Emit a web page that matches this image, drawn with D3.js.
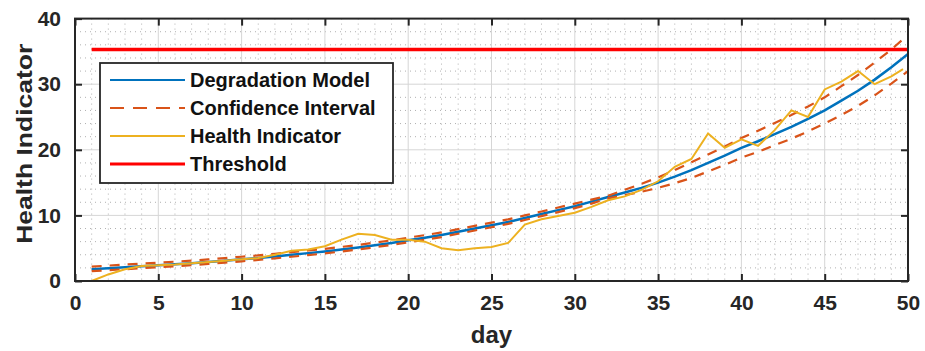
<html>
<head>
<style>
  body { margin: 0; background: #fff; }
  text { font-family: "Liberation Sans", Arial, sans-serif; }
</style>
<script src="https://d3js.org/d3.v7.min.js"></script>
</head>
<body>
<svg id="chart" width="925" height="351"></svg>
<script>
// days of the degradation model
const days = d3.range(1, 51);
const modelValues = [1.8, 1.95, 2.1, 2.25, 2.4, 2.55, 2.7, 2.9, 3.1, 3.3,
  3.5, 3.75, 4.0, 4.25, 4.5, 4.8, 5.1, 5.45, 5.8, 6.2,
  6.6, 7.0, 7.5, 8.0, 8.5, 9.0, 9.6, 10.2, 10.8, 11.4,
  12.1, 12.8, 13.5, 14.2, 15.0, 15.9, 16.9, 18.0, 19.1, 20.3,
  21.3, 22.4, 23.5, 24.7, 26.0, 27.5, 29.0, 30.7, 32.6, 34.6];
const upperValues = [2.2, 2.35, 2.5, 2.65, 2.8, 2.95, 3.1, 3.3, 3.5, 3.7,
  3.9, 4.15, 4.4, 4.65, 4.9, 5.2, 5.5, 5.85, 6.2, 6.6,
  7.0, 7.4, 7.9, 8.4, 8.9, 9.4, 10.0, 10.6, 11.2, 11.8,
  12.4, 13.0, 13.9, 14.8, 15.8, 16.9, 18.1, 19.3, 20.5, 21.8,
  22.9, 24.1, 25.3, 26.6, 28.0, 29.7, 31.4, 33.3, 35.3, 37.5];
const lowerValues = [1.5, 1.65, 1.8, 1.95, 2.1, 2.25, 2.4, 2.6, 2.8, 3.0,
  3.2, 3.45, 3.7, 3.95, 4.2, 4.5, 4.8, 5.15, 5.5, 5.9,
  6.3, 6.7, 7.2, 7.7, 8.2, 8.7, 9.3, 9.9, 10.5, 11.1,
  11.8, 12.6, 13.1, 13.6, 14.2, 14.9, 15.7, 16.7, 17.7, 18.8,
  19.7, 20.7, 21.7, 22.8, 24.0, 25.3, 26.7, 28.3, 30.1, 32.0];

// measured health indicator
const hiDays = [1, 2, 3, 4, 5, 6, 7, 8, 9, 10,
  11, 12, 13, 14, 15, 16, 17, 18, 19, 20,
  21, 22, 23, 24, 25, 26, 27, 28, 29, 30,
  31, 32, 33, 34, 35, 36, 37, 38, 39, 40,
  41, 42, 43, 44, 45, 46, 47, 48, 49, 49.7];
const hiValues = [0.0, 1.0, 1.8, 2.3, 2.4, 2.5, 2.7, 2.9, 3.1, 3.3,
  3.5, 4.0, 4.6, 4.8, 5.3, 6.3, 7.2, 7.0, 6.3, 6.3,
  6.0, 5.0, 4.7, 5.0, 5.2, 5.8, 8.6, 9.4, 9.9, 10.4,
  11.3, 12.3, 12.9, 13.9, 15.2, 17.4, 18.6, 22.5, 20.3, 21.6,
  20.6, 23.0, 26.0, 25.0, 29.2, 30.4, 32.0, 30.0, 31.2, 32.3];

const threshold = 35.3;
const xTicks = [0, 5, 10, 15, 20, 25, 30, 35, 40, 45, 50];
const yTicks = [0, 10, 20, 30, 40];
const legendLabels = ["Degradation Model", "Confidence Interval", "Health Indicator", "Threshold"];

const svg = d3.select("#chart");
const plotLeft = 75, plotRight = 908, plotTop = 18.6, plotBottom = 281;

const x = d3.scaleLinear().domain([0, 50]).range([plotLeft, plotRight]);
const y = d3.scaleLinear().domain([0, 40]).range([plotBottom, plotTop]);

// minor grid (dotted)
const grid = svg.append("g");
grid.selectAll(".vminor").data(d3.range(1, 50).filter(d => d % 5 !== 0)).enter()
  .append("line")
  .attr("x1", d => x(d)).attr("x2", d => x(d))
  .attr("y1", plotTop).attr("y2", plotBottom)
  .attr("stroke", "#b0b0b0").attr("stroke-width", 1).attr("stroke-dasharray", "1,4");
grid.selectAll(".hminor").data(d3.range(2, 40, 2).filter(d => d % 10 !== 0)).enter()
  .append("line")
  .attr("x1", plotLeft).attr("x2", plotRight)
  .attr("y1", d => y(d)).attr("y2", d => y(d))
  .attr("stroke", "#b0b0b0").attr("stroke-width", 1).attr("stroke-dasharray", "1,4");
// major grid
grid.selectAll(".vmajor").data(xTicks.slice(1, -1)).enter()
  .append("line")
  .attr("x1", d => x(d)).attr("x2", d => x(d))
  .attr("y1", plotTop).attr("y2", plotBottom)
  .attr("stroke", "#d6d6d6").attr("stroke-width", 1);
grid.selectAll(".hmajor").data(yTicks.slice(1, -1)).enter()
  .append("line")
  .attr("x1", plotLeft).attr("x2", plotRight)
  .attr("y1", d => y(d)).attr("y2", d => y(d))
  .attr("stroke", "#d6d6d6").attr("stroke-width", 1);

// series
const line = d3.line().x(d => x(d[0])).y(d => y(d[1]));

svg.append("path")
  .attr("d", line(days.map((d, i) => [d, modelValues[i]])))
  .attr("fill", "none").attr("stroke", "#0072BD").attr("stroke-width", 2.5);

[upperValues, lowerValues].forEach(vals => {
  svg.append("path")
    .attr("d", line(days.map((d, i) => [d, vals[i]])))
    .attr("fill", "none").attr("stroke", "#D95319").attr("stroke-width", 2.2)
    .attr("stroke-dasharray", "10,8");
});

svg.append("path")
  .attr("d", line(hiDays.map((d, i) => [d, hiValues[i]])))
  .attr("fill", "none").attr("stroke", "#EDB120").attr("stroke-width", 2);

svg.append("line")
  .attr("x1", x(1)).attr("x2", x(50))
  .attr("y1", y(threshold)).attr("y2", y(threshold))
  .attr("stroke", "#FF0000").attr("stroke-width", 3.5);

// axes (MATLAB box with inward ticks)
const axisColor = "#262626";
svg.append("g").attr("transform", `translate(0,${plotBottom})`)
  .call(d3.axisBottom(x).tickValues(xTicks).tickSize(-7).tickPadding(14))
  .call(g => g.select(".domain").remove());
svg.append("g").attr("transform", `translate(0,${plotTop})`)
  .call(d3.axisTop(x).tickValues(xTicks).tickSize(-7).tickFormat(""))
  .call(g => g.select(".domain").remove());
svg.append("g").attr("transform", `translate(${plotLeft},0)`)
  .call(d3.axisLeft(y).tickValues(yTicks).tickSize(-7).tickPadding(14))
  .call(g => g.select(".domain").remove());
svg.append("g").attr("transform", `translate(${plotRight},0)`)
  .call(d3.axisRight(y).tickValues(yTicks).tickSize(-7).tickFormat(""))
  .call(g => g.select(".domain").remove());

svg.selectAll(".tick line").attr("stroke", axisColor).attr("stroke-width", 2);
svg.selectAll(".tick text")
  .attr("fill", axisColor)
  .style("font-size", "21px").style("font-weight", "bold")
  .style("font-family", "'Liberation Sans', Arial, sans-serif");

svg.append("rect")
  .attr("x", plotLeft).attr("y", plotTop)
  .attr("width", plotRight - plotLeft).attr("height", plotBottom - plotTop)
  .attr("fill", "none").attr("stroke", axisColor).attr("stroke-width", 2);

// axis labels
svg.append("text")
  .attr("x", (plotLeft + plotRight) / 2).attr("y", 343)
  .attr("text-anchor", "middle")
  .attr("fill", axisColor)
  .style("font-size", "24px").style("font-weight", "bold")
  .text("day");

svg.append("text")
  .attr("transform", `translate(32,${(plotTop + plotBottom) / 2 - 6}) rotate(-90)`)
  .attr("text-anchor", "middle")
  .attr("fill", axisColor)
  .attr("textLength", 200).attr("lengthAdjust", "spacingAndGlyphs")
  .style("font-size", "22px").style("font-weight", "bold")
  .text("Health Indicator");

// legend
const legend = svg.append("g");
legend.append("rect")
  .attr("x", 100).attr("y", 63).attr("width", 293).attr("height", 120)
  .attr("fill", "#fff").attr("stroke", axisColor).attr("stroke-width", 1.8);

const legendColors = ["#0072BD", "#D95319", "#EDB120", "#FF0000"];
const legendRows = legend.selectAll(".row").data(legendLabels).enter()
  .append("g")
  .attr("transform", (d, i) => `translate(0,${80 + i * 28})`);
legendRows.append("line")
  .attr("x1", 110).attr("x2", 185)
  .attr("stroke", (d, i) => legendColors[i])
  .attr("stroke-width", (d, i) => i === 3 ? 3 : 2.2)
  .attr("stroke-dasharray", (d, i) => i === 1 ? "14,9" : null);
legendRows.append("text")
  .attr("x", 190).attr("dy", "0.35em")
  .attr("fill", "#111")
  .style("font-size", "20px").style("font-weight", "bold")
  .text(d => d);
</script>
</body>
</html>
